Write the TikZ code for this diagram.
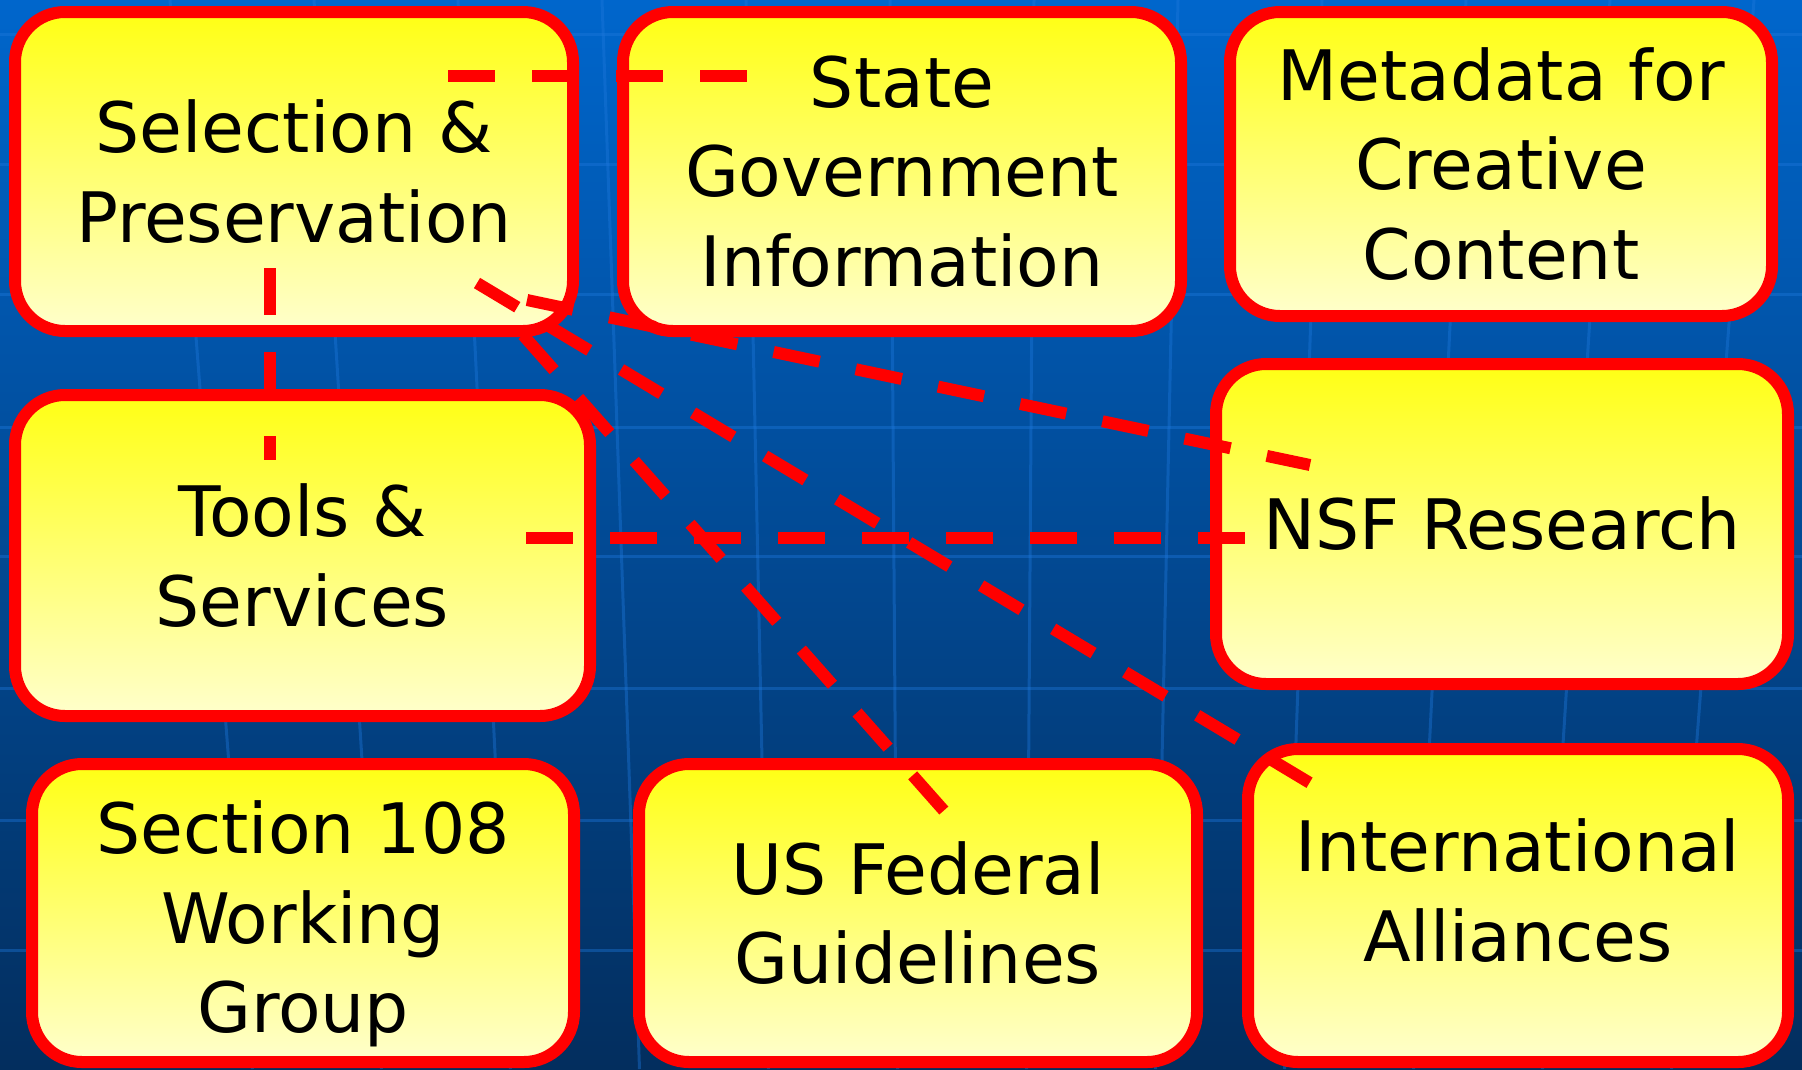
\documentclass[tikz,border=0pt]{standalone}
\usepackage{fontspec}
\setmainfont{DejaVu Sans}
\definecolor{bgtop}{HTML}{0066CC}
\definecolor{bgmid}{HTML}{024B96}
\definecolor{bgbottom}{HTML}{032E5E}
\definecolor{gridblue}{HTML}{1E78DC}
\definecolor{boxred}{HTML}{FF0000}
\definecolor{boxtop}{HTML}{FFFF14}
\definecolor{boxbottom}{HTML}{FFFFCC}
\begin{document}
\begin{tikzpicture}[x=0.1mm,y=-0.1mm,
        topic/.style={draw=boxred, line width=1.2mm, rounded corners=5mm,
            top color=boxtop, bottom color=boxbottom, align=center,
            font=\fontsize{19.8}{25.5}\selectfont},
        link/.style={boxred, line width=1.2mm, dash pattern=on 4.7mm off 3.7mm},
        gridline/.style={gridblue, line width=0.3mm, opacity=0.4}]
                \useasboundingbox (0,0) rectangle (1802,1069);
                \fill[top color=bgtop, middle color=bgmid, bottom color=bgbottom]
                    (0,0) rectangle (1802,1069);
                \foreach \y in {34,164,294,427,556,688,820,950}
                    \draw[gridline] (0,\y) -- (1802,\y);
                \foreach \k in {-6,...,5}
                    \draw[gridline] ({962+(\k+0.5)*144},0) -- ({962+(\k+0.5)*129},1069);

                \node[topic, minimum width=55.8mm, minimum height=31.9mm]
                    (sel) at (294,171.5) {Selection \&\\Preservation};
                \node[topic, minimum width=55.8mm, minimum height=31.9mm]
                    (stategov) at (902,171.5) {State\\Government\\Information};
                \node[topic, minimum width=54.2mm, minimum height=30.4mm]
                    (meta) at (1501,164) {Metadata for\\Creative\\Content};
                \node[topic, minimum width=57.5mm, minimum height=32.1mm]
                    (tools) at (302.5,555.5) {Tools \&\\Services};
                \node[topic, minimum width=57.2mm, minimum height=32.0mm]
                    (nsf) at (1502,524) {NSF Research};
                \node[topic, minimum width=54.2mm, minimum height=29.8mm]
                    (sec108) at (303,913) {\mbox{}\\[-4.3pt]Section 108\\Working\\Group};
                \node[topic, minimum width=55.8mm, minimum height=29.8mm]
                    (usfed) at (918,913) {US Federal\\Guidelines};
                \node[topic, minimum width=54.0mm, minimum height=31.3mm]
                    (intl) at (1518,905.5) {International\\Alliances\\[-16.7pt]\mbox{}};

                \draw[link] ([shift={(154,-95.5)}]sel.center)
                    -- ([shift={(-155,-95.5)}]stategov.center);
                \draw[link] ([shift={(-24,96.5)}]sel.center)
                    -- ([shift={(-32.5,-95.5)}]tools.center);
                \draw[link] ([shift={(223.5,-17.5)}]tools.center)
                    -- ([shift={(-255,14)}]nsf.center);
                \draw[link] ([shift={(233,128.5)}]sel.center)
                    -- ([shift={(-192,-59)}]nsf.center);
                \draw[link] ([shift={(183,111.5)}]sel.center)
                    -- ([shift={(-208,-122.5)}]intl.center);
                \draw[link] ([shift={(229,163.5)}]sel.center)
                    -- ([shift={(28,-100)}]usfed.center);
\end{tikzpicture}
\end{document}
